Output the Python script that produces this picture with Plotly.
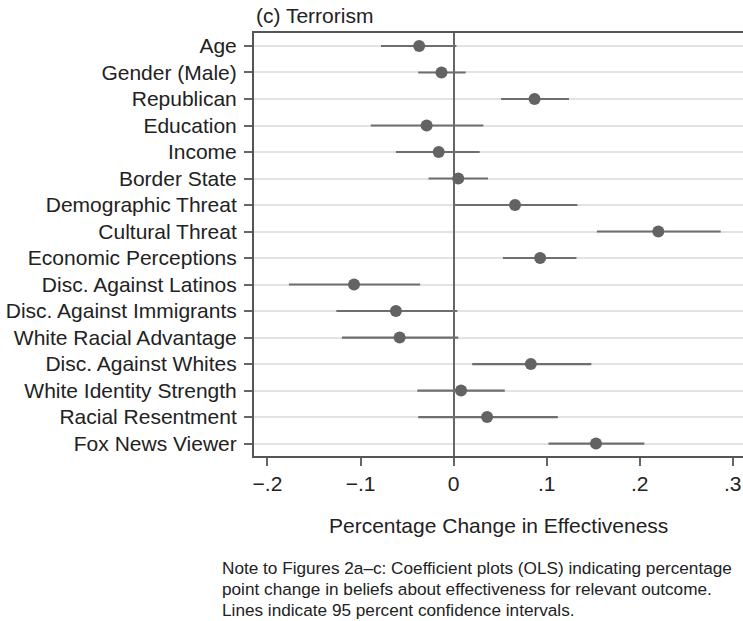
import plotly.graph_objects as go

variables = [
    "Age", "Gender (Male)", "Republican", "Education", "Income", "Border State",
    "Demographic Threat", "Cultural Threat", "Economic Perceptions",
    "Disc. Against Latinos", "Disc. Against Immigrants", "White Racial Advantage",
    "Disc. Against Whites", "White Identity Strength", "Racial Resentment",
    "Fox News Viewer",
]
estimate = [-0.037, -0.013, 0.087, -0.029, -0.016, 0.005, 0.066, 0.220, 0.093,
            -0.107, -0.062, -0.058, 0.083, 0.008, 0.036, 0.153]
ci_low = [-0.078, -0.038, 0.051, -0.089, -0.062, -0.027, 0.000, 0.154, 0.053,
          -0.177, -0.126, -0.120, 0.020, -0.039, -0.038, 0.102]
ci_high = [0.003, 0.013, 0.124, 0.032, 0.028, 0.037, 0.133, 0.287, 0.132,
           -0.036, 0.004, 0.005, 0.148, 0.055, 0.112, 0.205]
x_ticks = [-0.2, -0.1, 0, 0.1, 0.2, 0.3]
x_tick_labels = ["\u2212.2", "\u2212.1", "0", ".1", ".2", ".3"]

title_text = "(c) Terrorism"
x_title = "Percentage Change in Effectiveness"
note_lines = [
    "Note to Figures 2a\u2013c: Coefficient plots (OLS) indicating percentage",
    "point change in beliefs about effectiveness for relevant outcome.",
    "Lines indicate 95 percent confidence intervals.",
]

FONT = "Liberation Sans, Arial, Helvetica, sans-serif"
TXT = "#222222"
PLOT_TOP, PLOT_BOTTOM, PLOT_LEFT, W = 33, 456, 254, 743
PH = PLOT_BOTTOM - PLOT_TOP
PW = W - PLOT_LEFT


def py(pix):
    return (PLOT_BOTTOM - pix) / PH


def px(pix):
    return (pix - PLOT_LEFT) / PW


fig = go.Figure()
fig.add_trace(go.Scatter(
    x=estimate, y=variables, mode="markers",
    marker=dict(size=12, color="#636363"),
    error_x=dict(type="data", symmetric=False,
                 array=[h - e for h, e in zip(ci_high, estimate)],
                 arrayminus=[e - l for e, l in zip(estimate, ci_low)],
                 width=0, thickness=2.2, color="#6e6e6e"),
    showlegend=False, hoverinfo="skip",
))

annotations = [
    dict(text=title_text, xref="paper", yref="paper", x=0, y=py(15.7),
         xanchor="left", yanchor="middle", showarrow=False,
         font=dict(family=FONT, size=21, color=TXT)),
    dict(text=x_title, xref="paper", yref="paper", x=0.5, y=py(525),
         xanchor="center", yanchor="middle", showarrow=False,
         font=dict(family=FONT, size=21, color=TXT)),
]
for line, ypix in zip(note_lines, [567.7, 589, 610.3]):
    annotations.append(dict(
        text=line, xref="paper", yref="paper", x=px(220), y=py(ypix),
        xanchor="left", yanchor="middle", align="left", showarrow=False,
        font=dict(family=FONT, size=17.2, color=TXT)))

fig.update_layout(
    width=W, height=621,
    margin=dict(l=PLOT_LEFT, r=0, t=PLOT_TOP, b=621 - PLOT_BOTTOM),
    paper_bgcolor="white", plot_bgcolor="white",
    font=dict(family=FONT, size=21, color=TXT),
    xaxis=dict(
        range=[-0.2145, 0.311], tickvals=x_ticks, ticktext=x_tick_labels,
        showgrid=False, zeroline=True, zerolinecolor="#666666", zerolinewidth=2,
        showline=True, linecolor="#555555", linewidth=2, mirror=True,
        ticks="outside", ticklen=8, tickwidth=2, tickcolor="#666666",
        tickfont=dict(family=FONT, size=21, color=TXT),
    ),
    yaxis=dict(
        categoryorder="array", categoryarray=variables,
        range=[15.47, -0.49],
        showgrid=True, gridcolor="#e3e3e3", gridwidth=2,
        zeroline=False,
        showline=True, linecolor="#555555", linewidth=2, mirror=False,
        ticks="outside", ticklen=8, tickwidth=2, tickcolor="#666666",
        ticklabelstandoff=3,
        tickfont=dict(family=FONT, size=21, color=TXT),
    ),
    annotations=annotations,
)

fig.write_html("out.html", config={"displayModeBar": False},
               post_script="document.body.style.margin='0';document.body.style.overflow='hidden';")
